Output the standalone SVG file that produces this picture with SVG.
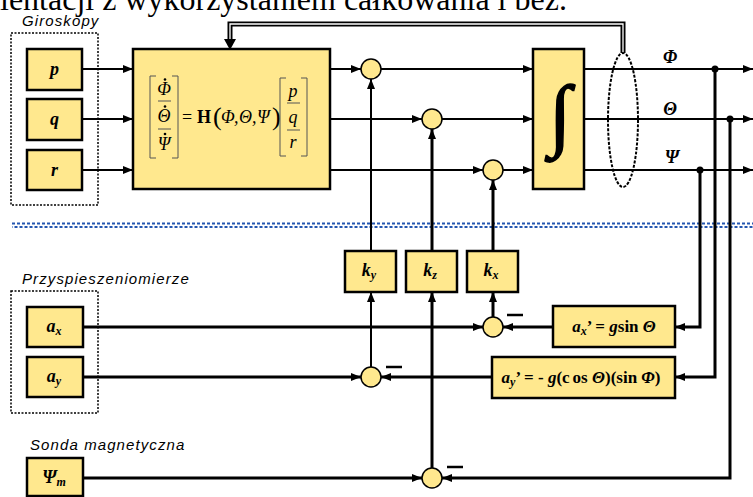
<svg xmlns="http://www.w3.org/2000/svg" width="753" height="497" viewBox="0 0 753 497">
<defs>
<marker id="ah" markerUnits="userSpaceOnUse" markerWidth="10" markerHeight="8" refX="10" refY="4" orient="auto"><path d="M0,0 L10,4 L0,8 z" fill="#000"/></marker>
<style>
.box{fill:#FFE88E;stroke:#000;stroke-width:2.5}
.sj{fill:#FFE88E;stroke:#000;stroke-width:1.5}
.ln{fill:none;stroke:#000;stroke-width:2}
.lt{fill:none;stroke:#000;stroke-width:3}
.grp{fill:none;stroke:#000;stroke-width:1.5;stroke-dasharray:2 1.5}
.cap{font-family:"Liberation Sans",Arial,sans-serif;font-style:italic;font-size:15px;letter-spacing:1.1px}
.lbl{font-family:"Liberation Serif","Times New Roman",serif;font-weight:bold;font-style:italic;font-size:18px}
.bt{font-family:"Liberation Serif","Times New Roman",serif;font-weight:bold;font-size:17px}
.m{font-family:"Liberation Serif","Times New Roman",serif;font-style:italic;font-size:18px}
.br{fill:none;stroke:#555;stroke-width:1}
.minus{stroke:#000;stroke-width:2.5}
</style>
</defs>
<text x="0" y="9.5" font-family="Liberation Serif, Times New Roman, serif" font-size="32">ientacji z wykorzystaniem całkowania i bez.</text>

<g id="separator">
<line x1="12" y1="223.5" x2="753" y2="223.5" stroke="#2456b0" stroke-width="2" stroke-dasharray="3 2"/>
<line x1="12" y1="227" x2="753" y2="227" stroke="#2456b0" stroke-width="2" stroke-dasharray="3 2" stroke-dashoffset="2.5"/>
</g>

<g id="connectors">
<path class="ln" d="M82,69 H133" marker-end="url(#ah)"/>
<path class="ln" d="M82,119 H133" marker-end="url(#ah)"/>
<path class="ln" d="M82,170 H133" marker-end="url(#ah)"/>
<path class="ln" d="M330,69 H361" marker-end="url(#ah)"/>
<path class="ln" d="M330,119 H422" marker-end="url(#ah)"/>
<path class="ln" d="M330,170 H483" marker-end="url(#ah)"/>
<path class="ln" d="M381,69 H533" marker-end="url(#ah)"/>
<path class="ln" d="M442,119 H533" marker-end="url(#ah)"/>
<path class="ln" d="M503,170 H533" marker-end="url(#ah)"/>
<path class="ln" d="M584,69 H753" marker-end="url(#ah)"/>
<path class="ln" d="M584,119 H753" marker-end="url(#ah)"/>
<path class="ln" d="M584,170 H753" marker-end="url(#ah)"/>
<path d="M623,53 V24 H230 V41" fill="none" stroke="#000" stroke-width="5"/>
<path d="M623,53 V24 H230 V40" fill="none" stroke="#fff" stroke-width="1.3"/>
<path d="M224,39 L236,39 L230,50 z" fill="#000"/>
<path class="ln" d="M371,251 V79" marker-end="url(#ah)"/>
<path class="lt" d="M432,251 V129" marker-end="url(#ah)"/>
<path class="lt" d="M493,251 V180" marker-end="url(#ah)"/>
<path class="ln" d="M371,367 V292" marker-end="url(#ah)"/>
<path class="lt" d="M432,468 V292" marker-end="url(#ah)"/>
<path class="lt" d="M493,317 V292" marker-end="url(#ah)"/>
<path class="lt" d="M83,327 H483" marker-end="url(#ah)"/>
<path class="lt" d="M83,377 H361" marker-end="url(#ah)"/>
<path class="lt" d="M83,478 H422" marker-end="url(#ah)"/>
<path class="lt" d="M553,327 H503" marker-end="url(#ah)"/>
<path class="lt" d="M492,377 H381" marker-end="url(#ah)"/>
<path class="lt" d="M700,170 V327 H675" marker-end="url(#ah)"/>
<path class="lt" d="M715,69 V377 H675" marker-end="url(#ah)"/>
<path class="lt" d="M730,119 V478 H442" marker-end="url(#ah)"/>
<circle cx="700" cy="170" r="3.5"/>
<circle cx="715" cy="69" r="3.5"/>
<circle cx="730" cy="119" r="3.5"/>
<line class="minus" x1="507" y1="315" x2="523" y2="315"/>
<line class="minus" x1="386" y1="367" x2="402" y2="367"/>
<line class="minus" x1="447" y1="467" x2="463" y2="467"/>
</g>

<g id="gyros">
<rect class="grp" x="11" y="33" width="87" height="172"/>
<text class="cap" x="22" y="26">Giroskopy</text>
</g>
<g id="p"><rect class="box" x="27" y="49" width="55" height="41"/><text class="lbl" x="54.5" y="75" text-anchor="middle">p</text></g>
<g id="q"><rect class="box" x="27" y="99" width="55" height="41"/><text class="lbl" x="54.5" y="125" text-anchor="middle">q</text></g>
<g id="r"><rect class="box" x="27" y="150" width="55" height="40"/><text class="lbl" x="54.5" y="176" text-anchor="middle">r</text></g>

<g id="matrix">
<rect class="box" x="133" y="49" width="197" height="140"/>
<path class="br" d="M156,76 H150 V158 H156 M172,76 H178 V158 H172"/>
<line class="br" x1="158" y1="101" x2="171" y2="101"/>
<line class="br" x1="158" y1="129" x2="171" y2="129"/>
<circle cx="165" cy="79.5" r="1.3"/>
<circle cx="165" cy="106.5" r="1.3"/>
<circle cx="165" cy="134" r="1.3"/>
<text class="m" x="164" y="95" text-anchor="middle">Φ</text>
<text class="m" x="164" y="122" text-anchor="middle">Θ</text>
<text class="m" x="164" y="150" text-anchor="middle">Ψ</text>
<text x="182" y="123" font-family="Liberation Serif, Times New Roman, serif" font-size="18">=</text>
<text x="197" y="123" font-family="Liberation Serif, Times New Roman, serif" font-size="18" font-weight="bold">H</text>
<text x="213" y="125" font-family="Liberation Serif, Times New Roman, serif" font-size="26">(</text>
<text class="m" x="221" y="123">Φ</text>
<text class="m" x="234" y="123">,</text>
<text class="m" x="239" y="123">Θ</text>
<text class="m" x="252" y="123">,</text>
<text class="m" x="257" y="123">Ψ</text>
<text x="272" y="125" font-family="Liberation Serif, Times New Roman, serif" font-size="26">)</text>
<path class="br" d="M286,78 H280 V156 H286 M301,78 H307 V156 H301"/>
<line class="br" x1="287" y1="103" x2="300" y2="103"/>
<line class="br" x1="287" y1="130" x2="300" y2="130"/>
<text class="m" x="293" y="97" text-anchor="middle">p</text>
<text class="m" x="293" y="123" text-anchor="middle">q</text>
<text class="m" x="293" y="148" text-anchor="middle">r</text>
</g>

<g id="sum1"><circle class="sj" cx="371" cy="69" r="10"/></g>
<g id="sum2"><circle class="sj" cx="432" cy="119" r="10"/></g>
<g id="sum3"><circle class="sj" cx="493" cy="170" r="10"/></g>

<g id="integrator">
<rect class="box" x="533" y="49" width="51" height="140"/>
<text x="560" y="141" text-anchor="middle" font-family="Liberation Serif, Times New Roman, serif" font-size="80" font-weight="bold" stroke="#000" stroke-width="1.5">∫</text>
</g>

<g id="bus"><ellipse cx="623" cy="120" rx="15" ry="67" fill="none" stroke="#000" stroke-width="2" stroke-dasharray="3 1.5"/></g>

<g id="outputs">
<text class="lbl" x="670" y="63" text-anchor="middle" font-size="17">Φ</text>
<text class="lbl" x="670" y="115" text-anchor="middle" font-size="17">Θ</text>
<text class="lbl" x="672" y="163" text-anchor="middle" font-size="17">Ψ</text>
</g>

<g id="ky"><rect class="box" x="345" y="251" width="51" height="41"/><text class="lbl" x="369" y="276" text-anchor="middle">k<tspan font-size="12" dy="3">y</tspan></text></g>
<g id="kz"><rect class="box" x="406" y="251" width="51" height="41"/><text class="lbl" x="430" y="276" text-anchor="middle">k<tspan font-size="12" dy="3">z</tspan></text></g>
<g id="kx"><rect class="box" x="467" y="251" width="51" height="41"/><text class="lbl" x="491" y="276" text-anchor="middle">k<tspan font-size="12" dy="3">x</tspan></text></g>

<g id="accels">
<rect class="grp" x="11" y="291" width="87" height="122"/>
<text class="cap" x="22" y="284">Przyspieszeniomierze</text>
</g>
<g id="ax"><rect class="box" x="27" y="307" width="56" height="40"/><text class="lbl" x="54" y="332" text-anchor="middle">a<tspan font-size="12" dy="3">x</tspan></text></g>
<g id="ay"><rect class="box" x="27" y="357" width="56" height="40"/><text class="lbl" x="54" y="382" text-anchor="middle">a<tspan font-size="12" dy="3">y</tspan></text></g>

<g id="mag">
<text class="cap" x="30" y="450" letter-spacing="1.3">Sonda magnetyczna</text>
</g>
<g id="psim"><rect class="box" x="27" y="458" width="56" height="38"/><text class="lbl" x="54" y="483" text-anchor="middle">Ψ<tspan font-size="12" dy="3">m</tspan></text></g>

<g id="sum4"><circle class="sj" cx="493" cy="327" r="10"/></g>
<g id="sum5"><circle class="sj" cx="371" cy="377" r="10"/></g>
<g id="sum6"><circle class="sj" cx="432" cy="478" r="10"/></g>

<g id="axp"><rect class="box" x="553" y="306" width="122" height="41"/>
<text class="bt" x="614" y="332" text-anchor="middle"><tspan font-style="italic">a</tspan><tspan font-style="italic" font-size="12" dy="3">x</tspan><tspan dy="-3">’ = </tspan><tspan font-style="italic">g</tspan>sin <tspan font-style="italic">Θ</tspan></text></g>
<g id="ayp"><rect class="box" x="492" y="357" width="183" height="41"/>
<text class="bt" x="581" y="383" text-anchor="middle"><tspan font-style="italic">a</tspan><tspan font-style="italic" font-size="12" dy="3">y</tspan><tspan dy="-3">’ = - </tspan><tspan font-style="italic">g</tspan>(c<tspan dx="3">os </tspan><tspan font-style="italic">Θ</tspan>)(sin <tspan font-style="italic">Φ</tspan>)</text></g>
</svg>
